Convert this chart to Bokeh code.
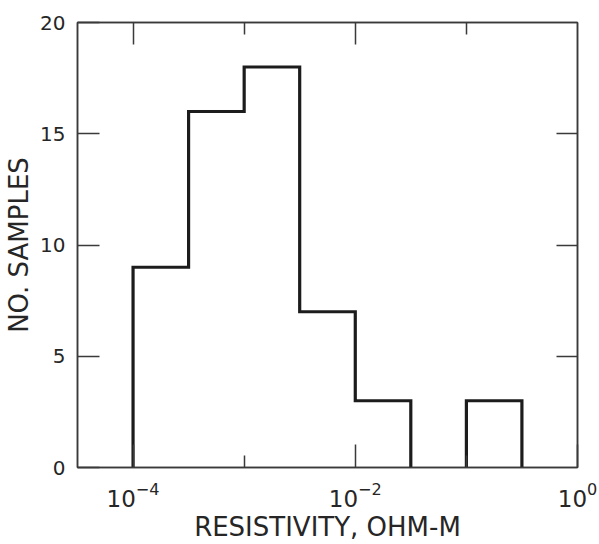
from bokeh.plotting import figure
from bokeh.models import (LogAxis, LinearAxis, FixedTicker, Range1d,
                          LogTickFormatter, CustomJSTickFormatter, ColumnDataSource)
from bokeh.embed import file_html
from bokeh.resources import INLINE

# ---- data ----
bin_edges = [1.0e-4, 3.16e-4, 1.0e-3, 3.16e-3, 1.0e-2, 3.16e-2, 1.0e-1, 3.16e-1]
counts = [9, 16, 18, 7, 3, 0, 3]
x_major_ticks = [1e-4, 1e-2, 1e0]
x_minor_ticks = [1e-3, 1e-1]
y_ticks = [0, 5, 10, 15, 20]
y_side_ticks = [5, 10, 15]
x_label = "RESISTIVITY, OHM-M"
y_label = "NO. SAMPLES"

FONT = "DejaVu Sans"
TXT = "#262626"
FRAME = "#3a3a3a"

# outline of the histogram as separate polylines (no drawing along empty bins)
xs, ys = [], []
cx, cy = None, None
for i, c in enumerate(counts):
    l, r = bin_edges[i], bin_edges[i + 1]
    if c == 0:
        if cx is not None:
            cx.append(l); cy.append(0)
            xs.append(cx); ys.append(cy)
            cx, cy = None, None
        continue
    if cx is None:
        cx, cy = [l], [0]
    cx += [l, r]; cy += [c, c]
if cx is not None:
    cx.append(bin_edges[-1]); cy.append(0)
    xs.append(cx); ys.append(cy)

p = figure(width=599, height=544, x_axis_type="log",
           x_range=Range1d(10 ** -4.5, 1.0), y_range=Range1d(0, 20),
           x_axis_location=None, y_axis_location=None,
           output_backend="svg", toolbar_location=None,
           min_border_left=77, min_border_right=22, min_border_top=22, min_border_bottom=77)
p.xgrid.visible = False
p.ygrid.visible = False
p.background_fill_color = "white"
p.border_fill_color = "white"
p.outline_line_color = FRAME
p.outline_line_width = 1.5

def style(ax):
    ax.axis_line_color = FRAME
    ax.axis_line_width = 1.5
    ax.major_tick_line_color = FRAME
    ax.minor_tick_line_color = FRAME
    ax.major_tick_line_width = 1.5
    ax.minor_tick_line_width = 1.5
    ax.major_tick_out = 0
    ax.minor_tick_out = 0
    ax.major_label_text_font = FONT
    ax.major_label_text_font_size = "20px"
    ax.major_label_text_color = TXT
    ax.axis_label_text_font = FONT
    ax.axis_label_text_font_size = "26px"
    ax.axis_label_text_font_style = "normal"
    ax.axis_label_text_color = TXT

empty = CustomJSTickFormatter(code='return ""')

xb = LogAxis(ticker=FixedTicker(ticks=x_major_ticks, minor_ticks=x_minor_ticks),
             formatter=LogTickFormatter(), axis_label=x_label)
style(xb)
xb.major_label_text_font_size = "23px"
xb.major_tick_in = 23
xb.minor_tick_in = 12
xb.major_label_standoff = 14
xb.axis_label_standoff = 2
p.add_layout(xb, "below")

xt = LogAxis(ticker=FixedTicker(ticks=[1e-4, 1e-2], minor_ticks=x_minor_ticks),
             formatter=empty)
style(xt)
xt.major_tick_in = 22
xt.minor_tick_in = 12
xt.major_label_standoff = 0
p.add_layout(xt, "above")

yl = LinearAxis(ticker=FixedTicker(ticks=y_ticks, minor_ticks=[]), axis_label=y_label)
style(yl)
yl.major_tick_in = 22
yl.minor_tick_in = 0
yl.major_label_standoff = 12
yl.axis_label_standoff = 3
p.add_layout(yl, "left")

yr = LinearAxis(ticker=FixedTicker(ticks=y_side_ticks, minor_ticks=[]), formatter=empty)
style(yr)
yr.major_tick_in = 21
yr.minor_tick_in = 0
yr.major_label_standoff = 0
p.add_layout(yr, "right")

src = ColumnDataSource(dict(xs=xs, ys=ys))
p.multi_line(xs="xs", ys="ys", source=src, line_color="#1c1c1c", line_width=3.2,
             line_join="miter")

open("out.html", "w").write(file_html(p, INLINE))
